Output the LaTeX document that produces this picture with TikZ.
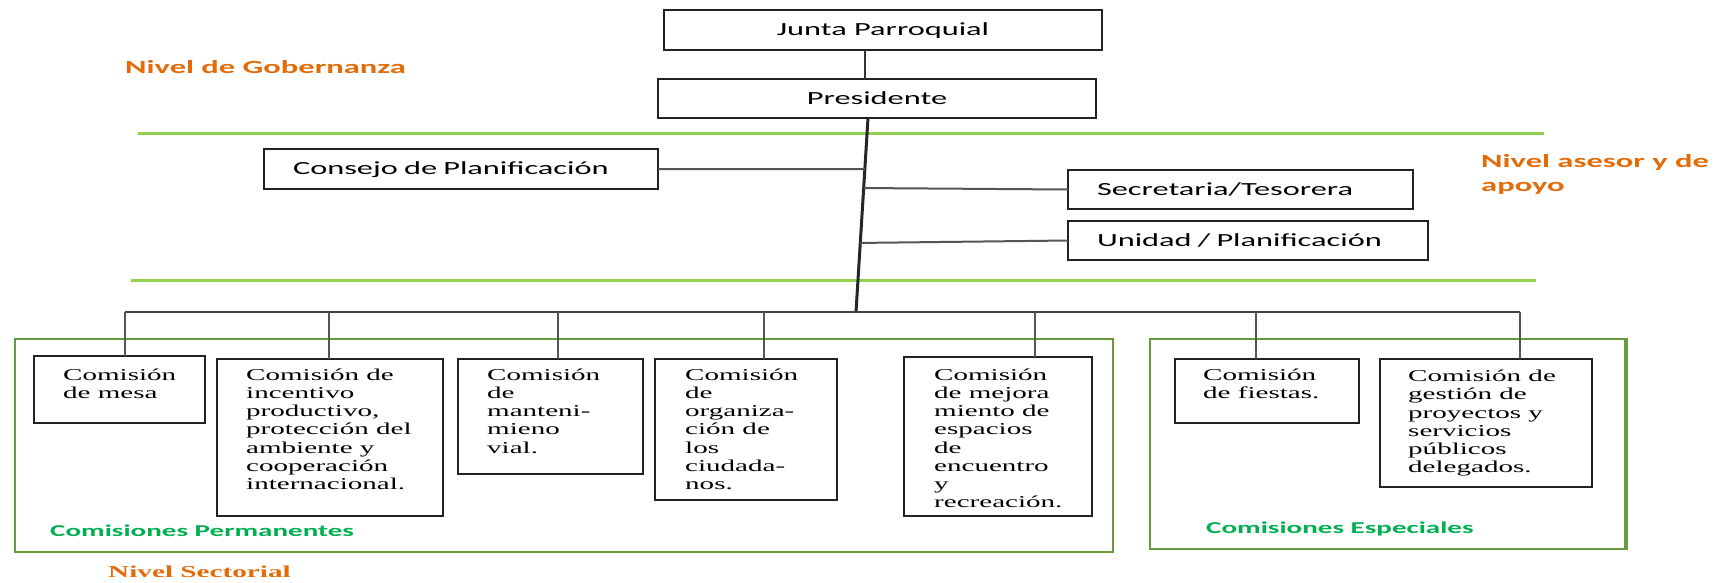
\documentclass[tikz,border=0pt]{standalone}
\usepackage{fontspec}
\setmainfont{Liberation Serif}[FakeStretch=1.75]
\newfontfamily\wsans{Carlito}[FakeStretch=1.75]
\usetikzlibrary{calc}
\definecolor{orangeT}{HTML}{E36C0A}
\definecolor{greenT}{HTML}{00B050}
\definecolor{lgreen}{HTML}{92D050}
\definecolor{olive}{HTML}{6A9A3C}
\definecolor{conn}{HTML}{555555}
\definecolor{bord}{HTML}{222222}
\begin{document}
\begin{tikzpicture}[x=1pt,y=-1pt,
  topbox/.style={draw=bord, line width=2pt, inner sep=0pt, outer sep=0pt,
    font=\wsans\fontsize{18.5}{20}\selectfont, text height=13pt, text depth=2pt},
  lbox/.style={topbox, align=left, inner xsep=29pt},
  cbox/.style={draw=bord, line width=2pt, inner sep=0pt, outer sep=0pt, anchor=north west},
  ctext/.style={font=\fontsize{16.6}{18.2}\selectfont, align=left, inner sep=0pt, anchor=north west},
  glevel/.style={draw=lgreen, line width=3pt},
  gframe/.style={draw=olive, line width=2pt},
  conline/.style={draw=conn, line width=2pt},
  trunkline/.style={draw=black!85, line width=3pt},
  orangelbl/.style={text=orangeT, inner sep=0pt, font=\wsans\bfseries\fontsize{18.6}{24.5}\selectfont},
  greenlbl/.style={text=greenT, inner sep=0pt, anchor=base west, font=\wsans\bfseries\fontsize{16.6}{18}\selectfont}
]
\useasboundingbox (0,0) rectangle (1719,582);
\fill[white] (0,0) rectangle (1719,582);

% level lines
\coordinate (g1a) at (138,133); \coordinate (g1b) at (1544,133);
\coordinate (g2a) at (131,280); \coordinate (g2b) at (1536,280);
\draw[glevel] (g1a) -- (g1b);
\draw[glevel] (g2a) -- (g2b);

% top boxes
\node[topbox, minimum width=438pt, minimum height=40pt] (junta) at (883,30) {Junta Parroquial};
\node[topbox, minimum width=438pt, minimum height=39pt] (pres) at (877,98.5) {Presidente};
\node[lbox, text width=336pt, minimum height=40pt] (consejo) at (461,169) {Consejo de Planificación};
\node[lbox, text width=287pt, minimum height=39pt] (secre) at (1240.5,189.5) {Secretaria/Tesorera};
\node[lbox, text width=302pt, minimum height=39pt] (unidad) at (1248,240.5) {Unidad / Planificación};

% labels
\node[orangelbl, anchor=base west] (lgob) at (125,73) {Nivel de Gobernanza};
\node[orangelbl, anchor=north west, align=left] (lases) at (1481,154) {Nivel asesor y de\\apoyo};

% connectors top
\coordinate (jp) at (865,50);
\draw[conline, draw=black!80] (jp) -- (jp |- pres.north);
\coordinate (ttop) at (868,118);
\coordinate (tbot) at (856,312);
\draw[trunkline] (ttop) -- (tbot);
\draw[conline] (consejo.east) -- ($(ttop)!0.263!(tbot)$);
\draw[conline] ($(ttop)!0.361!(tbot)$) -- (secre.west);
\draw[conline] ($(ttop)!0.644!(tbot)$) -- (unidad.west);

% green frames
\draw[gframe] (15,339) rectangle (1113,552);
\draw[gframe] (1150,339) rectangle (1626,549);
\draw[olive, line width=4pt] (1626,338) -- (1626,550);

% bottom boxes
\node[cbox, minimum width=171pt, minimum height=67pt] (b1) at (34,356) {};
\node[cbox, minimum width=226pt, minimum height=157pt] (b2) at (217,359) {};
\node[cbox, minimum width=185pt, minimum height=115pt] (b3) at (458,359) {};
\node[cbox, minimum width=182pt, minimum height=141pt] (b4) at (655,359) {};
\node[cbox, minimum width=188pt, minimum height=159pt] (b5) at (904,357) {};
\node[cbox, minimum width=184pt, minimum height=64pt] (b6) at (1175,359) {};
\node[cbox, minimum width=212pt, minimum height=128pt] (b7) at (1380,359) {};

\node[ctext] (t1) at (63,368.5) {Comisión\\de mesa};
\node[ctext] (t2) at (246,368.5) {Comisión de\\incentivo\\productivo,\\protección del\\ambiente y\\cooperación\\internacional.};
\node[ctext] (t3) at (487,368.5) {Comisión\\de\\manteni-\\mieno\\vial.};
\node[ctext] (t4) at (685,368.5) {Comisión\\de\\organiza-\\ción de\\los\\ciudada-\\nos.};
\node[ctext] (t5) at (934,368.5) {Comisión\\de mejora\\miento de\\espacios\\de\\encuentro\\y\\recreación.};
\node[ctext] (t6) at (1203,368.5) {Comisión\\de fiestas.};
\node[ctext] (t7) at (1408,370) {Comisión de\\gestión de\\proyectos y\\servicios\\públicos\\delegados.};

% bus and drops
\coordinate (d1) at (125,312);
\coordinate (d2) at (329,312);
\coordinate (d3) at (558,312);
\coordinate (d4) at (764,312);
\coordinate (d5) at (1035,312);
\coordinate (d6) at (1256,312);
\coordinate (d7) at (1520,312);
\draw[conline, draw=black!75] (d1) -- (d7);
\draw[conline] (d1) -- (d1 |- b1.north);
\draw[conline] (d2) -- (d2 |- b2.north);
\draw[conline] (d3) -- (d3 |- b3.north);
\draw[conline] (d4) -- (d4 |- b4.north);
\draw[conline] (d5) -- (d5 |- b5.north);
\draw[conline] (d6) -- (d6 |- b6.north);
\draw[conline] (d7) -- (d7 |- b7.north);

% bottom labels
\node[greenlbl] (lperm) at (50,536) {Comisiones Permanentes};
\node[greenlbl] (lesp) at (1206,533) {Comisiones Especiales};
\node[anchor=base west, inner sep=0pt, text=orangeT, font=\bfseries\fontsize{16.7}{18}\selectfont] (lsec) at (108,577) {Nivel Sectorial};
\end{tikzpicture}
\end{document}
